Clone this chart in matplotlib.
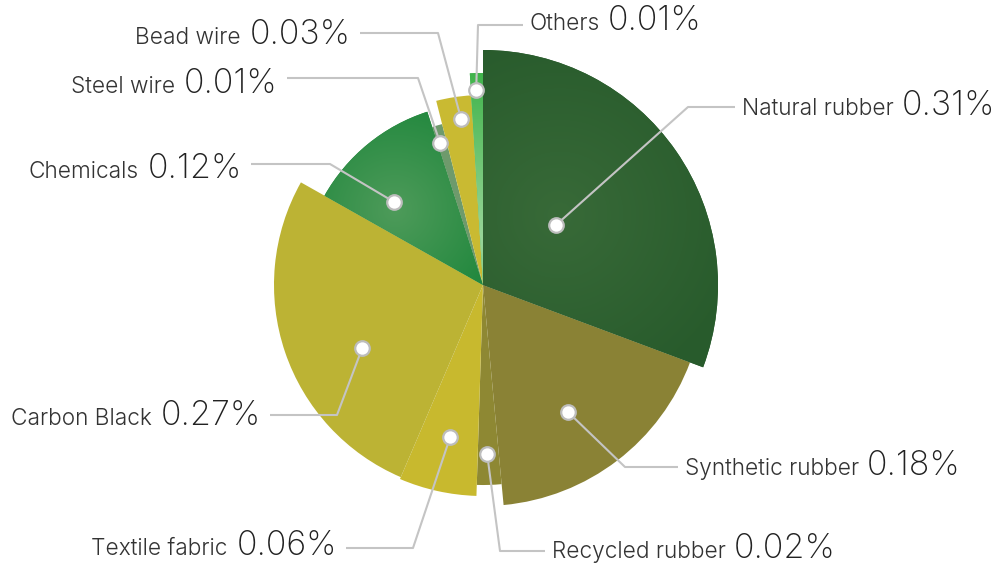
import numpy as np
import matplotlib
matplotlib.use("Agg")
import matplotlib.pyplot as plt
from matplotlib.patches import Wedge

# ---- data ----
categories = ["Natural rubber", "Synthetic rubber", "Recycled rubber", "Textile fabric",
              "Carbon Black", "Chemicals", "Steel wire", "Bead wire", "Others"]
values = [0.31, 0.18, 0.02, 0.06, 0.27, 0.12, 0.01, 0.03, 0.01]
value_labels = ["0.31%", "0.18%", "0.02%", "0.06%", "0.27%", "0.12%", "0.01%", "0.03%", "0.01%"]

# ---- style / layout ----
radii = [235, 221, 200, 211, 209, 182, 166, 190, 212]
colors = ["#2b5e2e", "#8a8235", "#8e8833", "#c8b92e", "#bcb334",
          "#25893f", "#6e9a6c", "#c9ba32", "#3fb34a"]
center = (483, 285)
# dot placed at (angle deg visual, distance px); elbow point; line end x; text baseline; side
label_layout = {
    "Natural rubber": dict(dot=(39.4, 94), elbow=(688, 107), end=735, ty=115, side="right"),
    "Synthetic rubber": dict(dot=(-56.2, 153), elbow=(625, 467), end=678, ty=475, side="right"),
    "Recycled rubber": dict(dot=(-88.6, 169), elbow=(500, 551), end=545, ty=558, side="right"),
    "Textile fabric": dict(dot=(-102.2, 156), elbow=(413, 548), end=346, ty=555, side="left"),
    "Carbon Black": dict(dot=(-152.5, 136), elbow=(337, 415), end=270, ty=425, side="left"),
    "Chemicals": dict(dot=(137.0, 122), elbow=(330, 164), end=251, ty=178, side="left"),
    "Steel wire": dict(dot=(106.8, 148), elbow=(418, 78), end=287, ty=93, side="left"),
    "Bead wire": dict(dot=(97.5, 167), elbow=(438, 33), end=360, ty=44, side="left"),
    "Others": dict(dot=(92.0, 195), elbow=(478, 25), end=523, ty=30, side="right"),
}

W, H = 1004, 566
fig = plt.figure(figsize=(W / 100, H / 100), dpi=100)
ax = fig.add_axes([0, 0, 1, 1])
ax.set_xlim(0, W)
ax.set_ylim(H, 0)
ax.axis("off")

total = sum(values)
start = 90.0
yy, xx = np.mgrid[0:H, 0:W] + 0.5


def radial_img(c_in, c_out, cx, cy, rad):
    c_in = np.array(matplotlib.colors.to_rgb(c_in))
    c_out = np.array(matplotlib.colors.to_rgb(c_out))
    d = np.clip(np.hypot(xx - cx, yy - cy) / rad, 0, 1)[..., None]
    return c_in * (1 - d) + c_out * d


gradients = {
    "Natural rubber": ("#386a38", "#285b2c", 560, 215, 190),
    "Chemicals": ("#4e9b5a", "#22883e", 395, 210, 110),
    "Others": ("#9ad69a", "#3fb34a", 476, 240, 170),
}

for cat, v, r, col in zip(categories, values, radii, colors):
    span = v / total * 360.0
    a_start = start
    a_end = start - span
    start = a_end
    w = Wedge(center, r, -a_start, -a_end, facecolor=col, edgecolor="none", zorder=2)
    ax.add_patch(w)
    if cat in gradients:
        ci, co, gx, gy, gr = gradients[cat]
        img = ax.imshow(radial_img(ci, co, gx, gy, gr), extent=(0, W, H, 0),
                        origin="upper", zorder=3, interpolation="bilinear")
        img.set_clip_path(w)

ax.set_xlim(0, W)
ax.set_ylim(H, 0)

line_col = "#c4c4c4"
name_font = dict(family=["Inter", "DejaVu Sans"], fontsize=16.3, color="#333333", weight=300)
pct_font = dict(family=["Inter", "DejaVu Sans"], fontsize=24.5, color="#222222", weight=200)

fig.canvas.draw()
renderer = fig.canvas.get_renderer()

for cat, lab in zip(categories, value_labels):
    L = label_layout[cat]
    ang, dist = L["dot"]
    dx = center[0] + dist * np.cos(np.radians(ang))
    dy = center[1] - dist * np.sin(np.radians(ang))
    ex, ey = L["elbow"]
    ax.plot([dx, ex, L["end"]], [dy, ey, ey], color=line_col, lw=1.5, zorder=4,
            solid_capstyle="butt")
    ax.scatter([dx], [dy], s=110, facecolor="white", edgecolor="#bdbdbd", linewidth=1.6, zorder=5)
    ty = L["ty"]
    if L["side"] == "right":
        x0 = L["end"] + 7
        t1 = ax.text(x0, ty, cat, ha="left", va="baseline", **name_font)
        bb = t1.get_window_extent(renderer)
        ax.text(bb.x1 + 8, ty, lab, ha="left", va="baseline", **pct_font)
    else:
        x1 = L["end"] - 9
        t2 = ax.text(x1, ty, lab, ha="right", va="baseline", **pct_font)
        bb = t2.get_window_extent(renderer)
        ax.text(bb.x0 - 9, ty, cat, ha="right", va="baseline", **name_font)

fig.savefig("out.png", dpi=100, facecolor="white")
